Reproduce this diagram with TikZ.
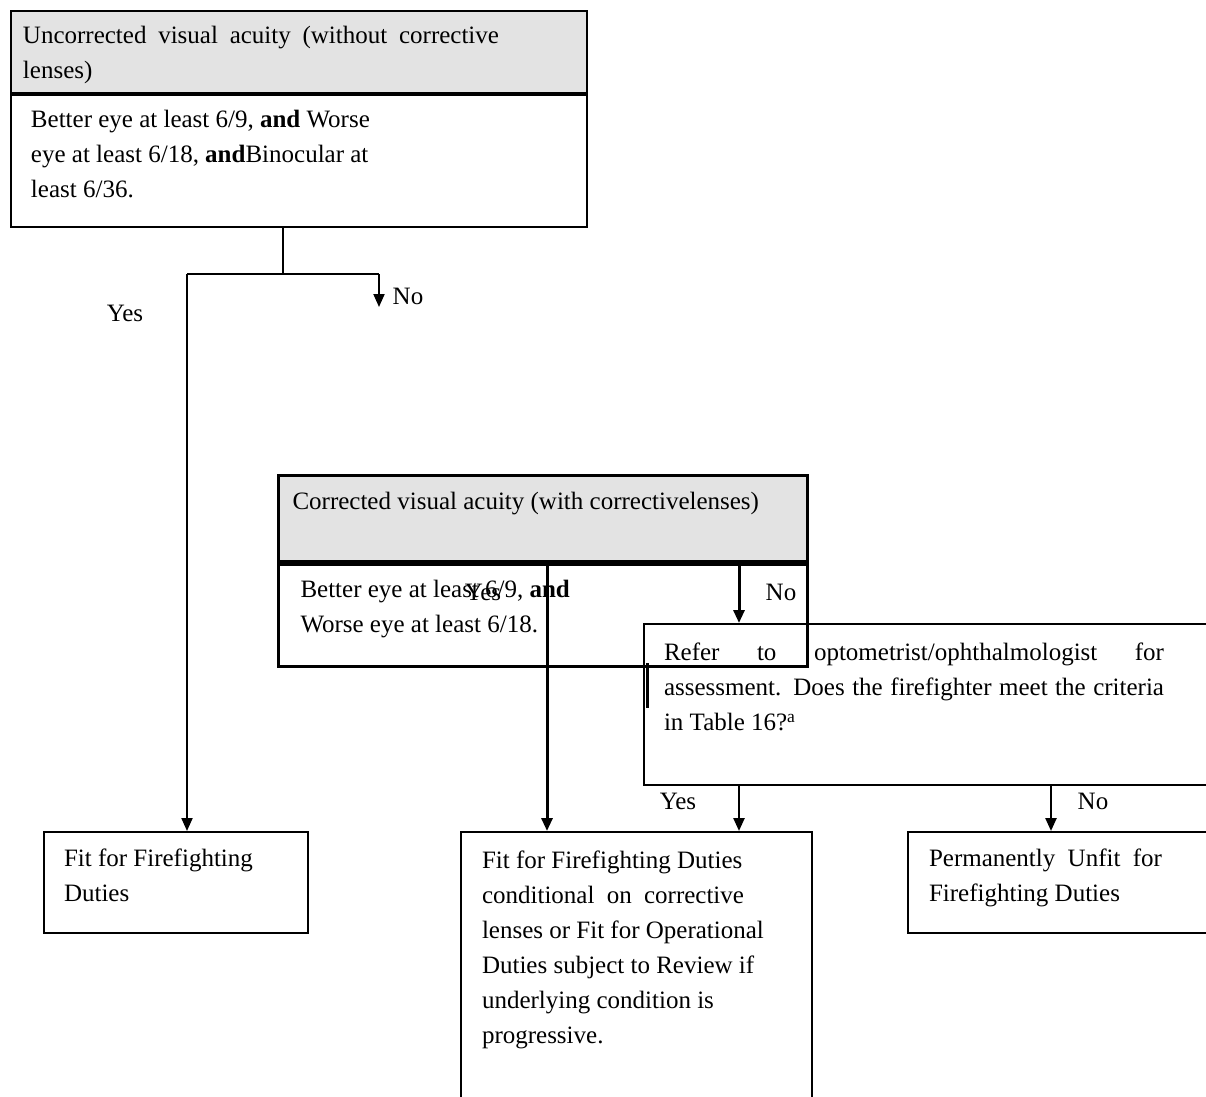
\documentclass[tikz,border=0pt]{standalone}
\usepackage{fontspec}
\setmainfont{Liberation Serif}
\usetikzlibrary{arrows.meta}
\colorlet{hdrgray}{black!11}
\newcommand{\vpad}[1]{\\[-#1]\mbox{}}

\begin{document}
\begin{tikzpicture}[x=0.5pt,y=-0.5pt,font=\fontsize{12.5}{17.5}\selectfont]
\tikzset{box/.style={draw, line width=1pt, anchor=north west, inner ysep=0pt, align=flush left}}
\tikzset{hdr/.style={box, fill=hdrgray}}
\tikzset{arr/.style={-{Triangle[length=6.5pt,width=5.5pt]}, line width=1pt}}
\useasboundingbox (0,0) rectangle (1206,1097);
\clip (0,0) rectangle (1206,1097);
% uncorrected
\node[hdr, minimum width=288pt, minimum height=41pt, inner xsep=6pt, text width=276pt] (hdrA) at (10,10)
  {\mbox{}\\[-5.4pt]\makebox[238pt][s]{Uncorrected visual acuity (without corrective}\\lenses)};
\node[box, minimum width=288pt, minimum height=66pt, inner xsep=10pt, text width=268pt] (bodyA) at (hdrA.south west)
  {Better eye at least 6/9, \textbf{and} Worse\\eye at least 6/18, \textbf{and}Binocular at\\least 6/36.\vpad{10.5pt}};
% corrected
\node[hdr, line width=1.5pt, minimum width=264.5pt, minimum height=43pt, inner xsep=7pt, text width=250.5pt] (hdrB) at (277,474)
  {Corrected visual acuity (with correctivelenses)\\~};
\node[box, line width=1.5pt, minimum width=264.5pt, minimum height=51pt, inner xsep=11pt, text width=242.5pt] (bodyB) at (hdrB.south west)
  {Better eye at least 6/9, \textbf{and}\\Worse eye at least 6/18.\vpad{8.3pt}};
\node[box, minimum width=298.5pt, minimum height=80.5pt, inner xsep=10pt, text width=278.5pt] (refer) at (643,623)
  {\makebox[250pt][s]{Refer to optometrist/ophthalmologist for}\\\makebox[250pt][s]{assessment. Does the firefighter meet the criteria}\\in Table 16?\textsuperscript{a}\\~};
% outcomes
\node[box, minimum width=132pt, minimum height=50.5pt, inner xsep=10pt, text width=112pt] (fitA) at (43,831)
  {Fit for Firefighting\\Duties\vpad{10.5pt}};
\node[box, minimum width=175.5pt, minimum height=150.5pt, inner xsep=10.5pt, text width=154.5pt] (cond) at (460,831)
  {Fit for Firefighting Duties\\\makebox[131pt][s]{conditional on corrective}\\lenses or Fit for Operational\\Duties subject to Review if\\underlying condition is\\progressive.\\~\\~};
\node[box, minimum width=166.5pt, minimum height=50.5pt, inner xsep=10.5pt, text width=145.5pt] (perm) at (907,831)
  {\makebox[116.5pt][s]{Permanently Unfit for}\\Firefighting Duties\vpad{9.8pt}};

\coordinate (split) at (283,274);
\coordinate (yesA) at (187,274);
\coordinate (noA) at (379,274);
\coordinate (noAend) at (379,307);
\coordinate (yesB) at (547,560);
\coordinate (noB) at (739,560);
\coordinate (noC) at (1051,784);
\draw[line width=0.9pt] (bodyA.south -| split) -- (split);
\draw[line width=0.9pt] (yesA) -- (noA);
\draw[arr] (yesA) -- (yesA |- fitA.north);
\draw[arr] (noA) -- (noAend);
\draw[arr, line width=1.5pt] (yesB) -- (yesB |- cond.north);
\draw[arr, line width=1.5pt] (noB) -- (noB |- refer.north);
\draw[arr, line width=1.2pt] (refer.south -| noB) -- (noB |- cond.north);
\draw[arr, line width=1.2pt] (noC) -- (noC |- perm.north);
\draw[line width=1.5pt] (647,663) -- (647,708);

\node (yesLblA) at (125,313) {Yes};
\node (noLblA) at (408,296) {No};
\node (yesLblB) at (483,592) {Yes};
\node (noLblB) at (781,592) {No};
\node (yesLblC) at (678,801) {Yes};
\node (noLblC) at (1093,801) {No};
\end{tikzpicture}
\end{document}
